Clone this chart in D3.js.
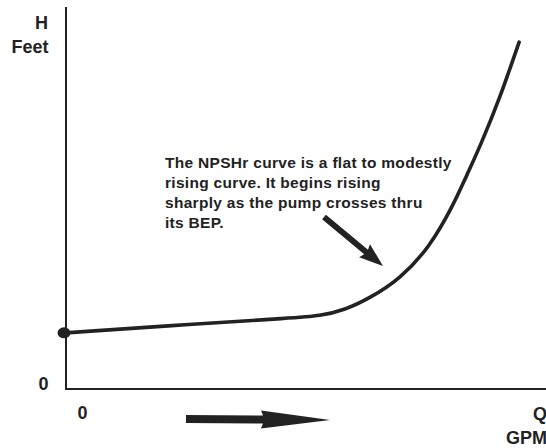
<!DOCTYPE html>
<html>
<head>
<meta charset="utf-8">
<script src="https://cdn.jsdelivr.net/npm/d3@7"></script>
<style>
  html, body { margin: 0; padding: 0; background: #fff; }
  svg { display: block; }
  text { font-family: "Liberation Sans", Arial, Helvetica, sans-serif; font-weight: bold; fill: #222; }
</style>
</head>
<body>
<svg id="chart" width="546" height="448"></svg>
<script>
// Flow Q (relative units, 0..100) and NPSHr head H (relative units, 0..100)
const flowQ = [0, 26.5, 47.3, 52.9, 58.1, 63.3, 69.6, 75.8, 80.6, 83.5, 86.3, 90.4, 94.4];
const headH = [14.7, 17.0, 18.6, 19.1, 20.7, 23.8, 28.8, 37.2, 47.9, 56.0, 63.6, 76.2, 90.8];
const yAxisLabels = ["H", "Feet"];
const xAxisLabels = ["Q", "GPM"];
const zeroLabel = "0";
const note = [
  "The NPSHr curve is a flat to modestly",
  "rising curve. It begins rising",
  "sharply as the pump crosses thru",
  "its BEP."
];

const svg = d3.select("#chart");
const ink = "#222";

const x = d3.scaleLinear().domain([0, 100]).range([66, 546]);
const y = d3.scaleLinear().domain([0, 100]).range([389, 7]);

// Axes (plain lines)
svg.append("line").attr("x1", x(0)).attr("x2", x(0)).attr("y1", y(100)).attr("y2", y(0))
  .attr("stroke", ink).attr("stroke-width", 2);
svg.append("line").attr("x1", x(0) - 1).attr("x2", x(100)).attr("y1", y(0)).attr("y2", y(0))
  .attr("stroke", ink).attr("stroke-width", 2);

// Curve
const pts = flowQ.map((q, i) => [q, headH[i]]);
const line = d3.line().x(d => x(d[0])).y(d => y(d[1])).curve(d3.curveBasis);
svg.append("path").datum(pts).attr("d", line)
  .attr("fill", "none").attr("stroke", ink).attr("stroke-width", 3.6)
  .attr("stroke-linecap", "round");

// Start dot
svg.append("ellipse").attr("cx", x(flowQ[0]) - 2).attr("cy", y(headH[0]))
  .attr("rx", 6.5).attr("ry", 5.5).attr("fill", ink);

// Axis labels
const lab = (tx, ty, anchor, s) => svg.append("text").attr("x", tx).attr("y", ty)
  .attr("text-anchor", anchor).attr("font-size", 18).text(s);
lab(48, 29, "end", yAxisLabels[0]);
lab(48.5, 53, "end", yAxisLabels[1]);
lab(43.5, 390, "middle", zeroLabel);
lab(82.5, 419, "middle", zeroLabel);
lab(547, 420, "end", xAxisLabels[0]);
lab(547, 444, "end", xAxisLabels[1]);

// Annotation text
const t = svg.append("text").attr("font-size", 15.5).attr("letter-spacing", 0.3);
note.forEach((s, i) => {
  t.append("tspan").attr("x", 165).attr("y", 168 + i * 20).text(s);
});

// Arrows
function arrow(x1, y1, x2, y2, w, hl, hw) {
  const ang = Math.atan2(y2 - y1, x2 - x1);
  const len = Math.hypot(x2 - x1, y2 - y1);
  const g = svg.append("g").attr("transform", `translate(${x1},${y1}) rotate(${ang * 180 / Math.PI})`);
  g.append("path")
    .attr("d", `M0,${-w/2} L${len - hl},${-w/2} L${len - hl - 2},${-hw/2} L${len},0 L${len - hl - 2},${hw/2} L${len - hl},${w/2} L0,${w/2} Z`)
    .attr("fill", ink);
}
arrow(324, 217, 383, 266, 6, 22, 17);
arrow(186, 419, 330, 420, 8, 67, 18);
</script>
</body>
</html>
